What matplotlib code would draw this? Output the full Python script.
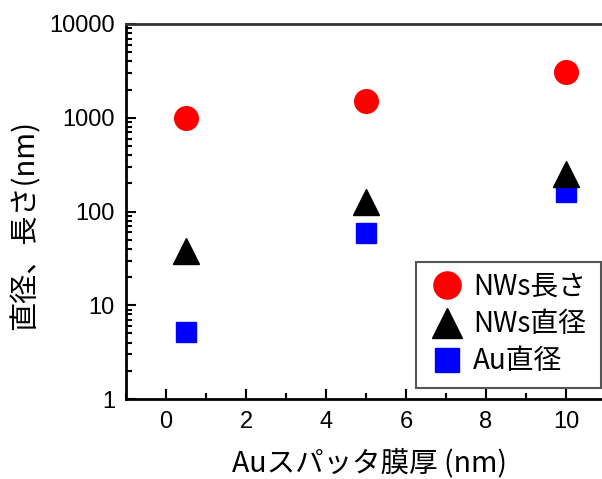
import matplotlib
matplotlib.use('Agg')
import matplotlib.pyplot as plt
from matplotlib.patches import Rectangle
from matplotlib.ticker import LogLocator, NullFormatter, MultipleLocator

# Au膜厚 (nm)
x = [0.5, 5, 10]
# NWs長さ, NWs直径, Au直径 (nm)
nw_len = [1000, 1500, 3100]
nw_dia = [38, 127, 250]
au_dia = [5.2, 59, 160]

labels = ['NWs長さ', 'NWs直径', 'Au直径']
jp = ['Noto Sans CJK JP', 'DejaVu Sans']

plt.rcParams['font.family'] = ['Liberation Sans', 'DejaVu Sans']

fig = plt.figure(figsize=(6.02, 4.79), dpi=100)
W, H = 602, 479
ax = fig.add_axes([126/W, (H-399)/H, (606-126)/W, (399-24)/H])

ax.plot(x, au_dia, 's', color='#0000ff', ms=15, label=labels[2], zorder=3)
ax.plot(x, nw_dia, '^', color='black', ms=19, label=labels[1], zorder=4)
ax.plot(x, nw_len, 'o', color='#ff0000', ms=17, label=labels[0], zorder=3)

ax.set_yscale('log')
ax.set_ylim(1, 10000)
ax.set_xlim(-1, 11)
ax.xaxis.set_major_locator(MultipleLocator(2))
ax.xaxis.set_minor_locator(MultipleLocator(1))
ax.yaxis.set_minor_locator(LogLocator(base=10, subs=range(2, 10)))
ax.yaxis.set_minor_formatter(NullFormatter())
ax.set_yticks([1, 10, 100, 1000, 10000])
ax.set_yticklabels(['1', '10', '100', '1000', '10000'])

for s in ['left', 'bottom', 'top']:
    ax.spines[s].set_linewidth(2)
ax.spines['top'].set_color('#333333')
ax.spines['right'].set_visible(False)
ax.tick_params(which='both', direction='in', top=False, right=False,
               labelsize=17, width=1.5)
ax.tick_params(axis='x', pad=9)
ax.tick_params(axis='y', pad=8)
ax.tick_params(which='major', length=7)
ax.tick_params(which='minor', length=4)

fig.text(370/W, 1-463/H, 'Auスパッタ膜厚 (nm)', family=jp, fontsize=20.5,
         ha='center', va='center')
fig.text(25/W, 1-225/H, '直径、長さ(nm)', family=jp, fontsize=21,
         ha='center', va='center', rotation=90)

# 凡例
h, l = ax.get_legend_handles_labels()
order = [2, 1, 0]
leg = ax.legend([h[i] for i in order], [l[i] for i in order],
                loc='upper left', bbox_to_anchor=(430/W, 1-272/H),
                bbox_transform=fig.transFigure, borderaxespad=0, borderpad=0,
                prop={'family': jp, 'size': 20}, frameon=False,
                handletextpad=0.35, labelspacing=0.26, handlelength=1.2,
                markerscale=1.15)
leg.set_zorder(6)
ax.add_patch(Rectangle((416/W, 1-388/H), (601-416)/W, (388-262)/H,
                       transform=fig.transFigure, facecolor='white',
                       edgecolor='#555555', linewidth=1.5, zorder=5,
                       clip_on=False))

fig.savefig('out.png', dpi=100)
